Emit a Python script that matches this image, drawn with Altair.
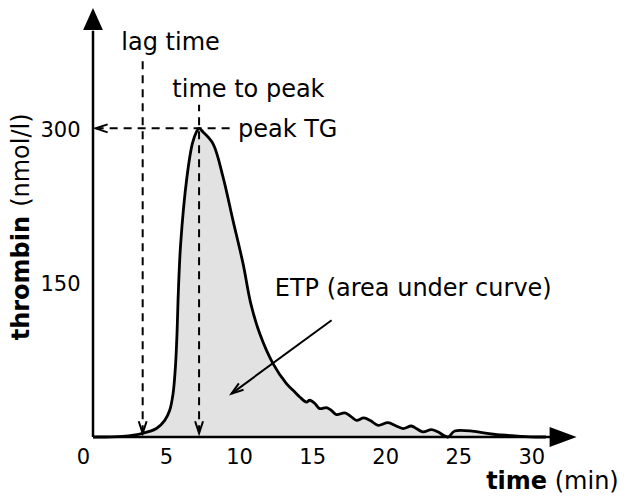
import altair as alt
import pandas as pd

# thrombin generation curve
time_min = [0, 2.03, 3.40, 4.34, 4.91, 5.25, 5.48, 5.64, 5.75, 5.82,
            6.00, 6.43, 6.80, 7.08, 7.26, 7.53, 8.21, 8.90, 9.58, 10.27,
            10.80, 11.41, 12.32, 13.24, 13.81, 14.15, 14.61, 14.83, 15.17, 15.51,
            15.98, 16.27, 16.66, 17.23, 17.64, 18.03, 18.53, 19.01, 19.51, 20.19,
            20.72, 21.22, 21.79, 22.16, 22.59, 23.16, 23.59, 24.30, 24.76, 27.84,
            29.89, 31.0]
thrombin = [0, 0.7, 3.6, 8.2, 16.2, 26.0, 42.2, 68.0, 100.5, 132.9,
            188.0, 252.7, 285.2, 296.5, 300, 296.5, 285.2, 252.7, 210.6, 168.5,
            129.7, 100.5, 71.3, 51.9, 43.7, 38.9, 34.0, 35.7, 32.8, 27.6,
            28.6, 26.4, 21.8, 23.5, 20.1, 16.2, 18.5, 15.7, 11.4, 14.0,
            10.9, 8.2, 10.7, 8.0, 4.9, 7.2, 5.1, 0, 5.8, 2.1,
            0.2, 0]

x_ticks = [0, 5, 10, 15, 20, 25, 30]
y_ticks = [150, 300]

lag_time = 3.4
time_to_peak = 7.26
peak_tg = 300

# annotation segments
dash_x = [lag_time, time_to_peak, 0.18]
dash_x2 = [lag_time, time_to_peak, 9.49]
dash_y = [3.6, 3.6, peak_tg]
dash_y2 = [366, 323, peak_tg]

etp_x = [16.33]
etp_x2 = [9.48]
etp_y = [113.5]
etp_y2 = [42.2]

head_x = [lag_time, time_to_peak, 0.18, 9.48]
head_y = [3.6, 3.6, peak_tg, 42.2]
head_angle = [180, 180, 270, 233.75]

note_text = ["lag time", "time to peak", "peak TG", "ETP (area under curve)"]
note_x = [1.94, 5.43, 9.92, 12.44]
note_y = [375.9, 330.5, 291.6, 136.8]

XDOM = [0, 36]
YDOM = [0, 417]
FONT = "DejaVu Sans"

x_axis = alt.Axis(values=x_ticks, domain=False, ticks=False, tickSize=0, grid=False,
                  labelFontSize=21, labelFont=FONT, labelColor="black", labelPadding=9,
                  labelFlush=False, labelOverlap=False,
                  labelOffset={"condition": {"test": "datum.value === 0", "value": -10}, "value": 0},
                  title=None)
y_axis = alt.Axis(values=y_ticks, domain=False, ticks=False, tickSize=0, grid=False,
                  labelFontSize=21, labelFont=FONT, labelColor="black", labelPadding=13,
                  labelOffset=2, labelFlush=False, labelOverlap=False, title=None)


def X(field):
    return alt.X(field, type="quantitative", scale=alt.Scale(domain=XDOM, nice=False, zero=False), axis=x_axis)


def Y(field):
    return alt.Y(field, type="quantitative", scale=alt.Scale(domain=YDOM, nice=False, zero=False), axis=y_axis)


curve = pd.DataFrame({"time": time_min, "thrombin": thrombin})
dashes = pd.DataFrame({"x": dash_x, "x2": dash_x2, "y": dash_y, "y2": dash_y2})
etp = pd.DataFrame({"x": etp_x, "x2": etp_x2, "y": etp_y, "y2": etp_y2})
heads = pd.DataFrame({"x": head_x, "y": head_y, "angle": head_angle})
notes = pd.DataFrame({"text": note_text, "x": note_x, "y": note_y})

area = alt.Chart(curve).mark_area(color="#e2e2e2", interpolate="catmull-rom").encode(
    x=X("time"), y=Y("thrombin"))
line = alt.Chart(curve).mark_line(color="black", strokeWidth=2.8, interpolate="catmull-rom").encode(
    x=X("time"), y=Y("thrombin"))

axes_df = pd.DataFrame({"x": [0, 0], "x2": [0, 32], "y": [0, 0], "y2": [395, 0]})
axis_lines = alt.Chart(axes_df).mark_rule(color="black", strokeWidth=2.5).encode(
    x=X("x"), x2="x2", y=Y("y"), y2="y2")

yhead = alt.Chart(pd.DataFrame({"x": [0], "y": [417]})).mark_point(
    shape="M0,0L0.45,1L-0.45,1Z", size=1936, filled=True, color="black", opacity=1, strokeWidth=0
).encode(x=X("x"), y=Y("y"))
xhead = alt.Chart(pd.DataFrame({"x": [33.1], "y": [0]})).mark_point(
    shape="M0,0L0.37,1L-0.37,1Z", size=2916, filled=True, color="black", opacity=1, strokeWidth=0, angle=90
).encode(x=X("x"), y=Y("y"))

dash_lines = alt.Chart(dashes).mark_rule(color="black", strokeWidth=2, strokeDash=[8, 6]).encode(
    x=X("x"), x2="x2", y=Y("y"), y2="y2")
etp_line = alt.Chart(etp).mark_rule(color="black", strokeWidth=2).encode(
    x=X("x"), x2="x2", y=Y("y"), y2="y2")
vheads = alt.Chart(heads).mark_point(
    shape="M-0.33,1L0,0L0.33,1", size=576, filled=False, color="black", opacity=1, strokeWidth=2
).encode(x=X("x"), y=Y("y"), angle=alt.Angle("angle:Q", scale=None))

note_marks = alt.Chart(notes).mark_text(align="left", baseline="alphabetic", fontSize=24, font=FONT,
                                        color="black").encode(x=X("x"), y=Y("y"), text="text:N")

xt1 = alt.Chart(pd.DataFrame({"x": [31.08], "y": [-50.5], "t": ["time"]})).mark_text(
    align="right", baseline="alphabetic", fontSize=24, font=FONT, fontWeight="bold", color="black"
).encode(x=X("x"), y=Y("y"), text="t:N")
xt2 = alt.Chart(pd.DataFrame({"x": [35.98], "y": [-50.5], "t": ["(min)"]})).mark_text(
    align="right", baseline="alphabetic", fontSize=24, font=FONT, color="black"
).encode(x=X("x"), y=Y("y"), text="t:N")

yt1 = alt.Chart(pd.DataFrame({"x": [-4.38], "y": [94], "t": ["thrombin"]})).mark_text(
    align="left", baseline="alphabetic", fontSize=24, font=FONT, fontWeight="bold", color="black", angle=270
).encode(x=X("x"), y=Y("y"), text="t:N")
yt2 = alt.Chart(pd.DataFrame({"x": [-4.38], "y": [314.5], "t": ["(nmol/l)"]})).mark_text(
    align="right", baseline="alphabetic", fontSize=24, font=FONT, color="black", angle=270
).encode(x=X("x"), y=Y("y"), text="t:N")

chart = alt.layer(
    area, line, axis_lines, yhead, xhead, dash_lines, etp_line, vheads,
    note_marks, xt1, xt2, yt1, yt2
).properties(
    width=526, height=429,
    padding={"left": 85, "top": 0, "right": 1, "bottom": 57},
    autosize=alt.AutoSizeParams(type="none"),
    view=alt.ViewBackground(stroke="transparent", strokeWidth=0),
).configure_view(stroke="transparent", strokeWidth=0).configure(font=FONT)

chart.save("out.html", embed_options={"renderer": "svg", "actions": False})
